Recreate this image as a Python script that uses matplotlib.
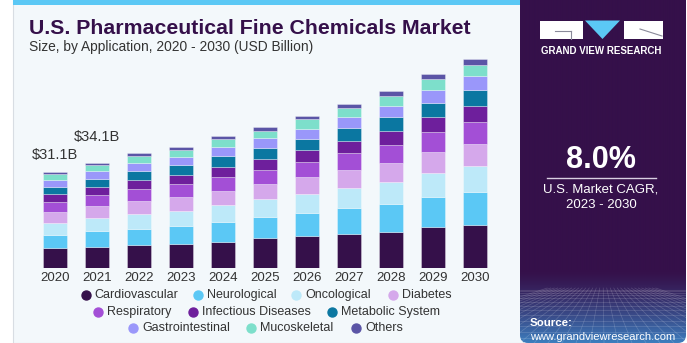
import matplotlib
matplotlib.use("Agg")
import matplotlib.pyplot as plt
import numpy as np
from matplotlib.patches import Rectangle, FancyBboxPatch, Polygon
from matplotlib.colors import to_rgb

plt.rcParams['font.family'] = ['Liberation Sans', 'DejaVu Sans']

years = ['2020', '2021', '2022', '2023', '2024', '2025', '2026', '2027', '2028', '2029', '2030']

segments = ['Cardiovascular', 'Neurological', 'Oncological', 'Diabetes', 'Respiratory',
            'Infectious Diseases', 'Metabolic System', 'Gastrointestinal', 'Mucoskeletal', 'Others']

cardio = [6.4, 6.8, 7.45, 7.8, 8.5, 9.7, 10.35, 11.1, 11.85, 13.2, 14.1]
neuro = [4.5, 5.1, 5.4, 5.9, 6.5, 6.9, 7.55, 8.4, 9.05, 9.8, 10.6]
onco = [3.9, 4.3, 4.75, 4.85, 5.3, 5.7, 6.05, 6.45, 7.0, 7.65, 8.3]
diab = [3.45, 3.8, 4.2, 4.5, 4.75, 4.95, 5.4, 5.8, 6.25, 6.8, 7.25]
resp = [3.3, 3.55, 3.8, 4.1, 4.4, 4.65, 5.05, 5.5, 5.8, 6.5, 7.1]
infect = [2.5, 2.7, 3.1, 3.1, 3.45, 3.45, 3.9, 4.0, 4.4, 4.85, 5.2]
metab = [2.35, 2.7, 2.8, 3.0, 3.35, 3.55, 3.55, 4.0, 4.4, 4.75, 4.95]
gastro = [2.25, 2.35, 2.6, 2.7, 2.9, 3.1, 3.25, 3.55, 3.8, 4.2, 4.55]
musco = [1.7, 1.95, 2.25, 2.35, 2.6, 2.5, 3.0, 3.0, 3.25, 3.35, 3.8]
others = [0.75, 0.85, 0.85, 1.0, 1.08, 1.2, 1.2, 1.3, 1.4, 1.6, 1.75]

series = [cardio, neuro, onco, diab, resp, infect, metab, gastro, musco, others]
colors = ['#35104a', '#5bc8f5', '#bde9f9', '#d5a8eb', '#a34fd6',
          '#6e1f9c', '#0b77a1', '#9a97fa', '#7ddfcb', '#5b55a6']

labels = {0: '$31.1B', 1: '$34.1B'}
label_offsets = {0: 17, 1: 26}   # px above bar top

W, H = 687, 343
fig = plt.figure(figsize=(W / 100, H / 100), dpi=100)
fig.patch.set_facecolor('white')

# background canvas in pixel units
bg = fig.add_axes([0, 0, 1, 1])
bg.set_xlim(0, W)
bg.set_ylim(H, 0)
bg.axis('off')

panel_bg = '#f3f8fb'
dark = '#35104a'
bg.add_patch(Rectangle((13, 0), 510, H, facecolor=panel_bg, edgecolor='#d8dde3', lw=0.8))
bg.add_patch(Rectangle((13, 0), 510, 4.5, facecolor='#5bc8f5', edgecolor='none'))

# right panel with gradient at the bottom
x0, x1 = 520, 686
grad = np.zeros((H, 2, 3))
top_c = np.array(to_rgb(dark))
bot_c = np.array(to_rgb('#3d7fc0'))
for r in range(H):
    t = np.clip((r - 270) / (H - 270), 0, 1) ** 1.3
    grad[r, :, :] = top_c * (1 - t) + bot_c * t
clip = FancyBboxPatch((x0, -10), x1 - x0, H + 10, boxstyle='round,pad=0,rounding_size=8',
                      facecolor='none', edgecolor='none', transform=bg.transData)
bg.add_patch(clip)
im = bg.imshow(grad, extent=[x0, x1, H, 0], aspect='auto', zorder=1, interpolation='bilinear')
im.set_clip_path(clip)

# perspective grid texture
for k in range(14):
    yy = 290 + (k / 13) ** 1.6 * 55
    ln, = bg.plot([x0, x1], [yy, yy], color='white', lw=0.5, alpha=0.18, zorder=2)
    ln.set_clip_path(clip)
for k in range(-10, 22):
    xb = x0 + k * 14
    ln, = bg.plot([603 + (xb - 603) * 0.25, xb], [288, H], color='white', lw=0.5, alpha=0.18, zorder=2)
    ln.set_clip_path(clip)

# logo
bg.add_patch(Rectangle((540, 20.5), 43, 18.5, facecolor='white', edgecolor='none', zorder=3))
bg.plot([555, 571], [30.5, 30.5], color='#8a8a9a', lw=0.8, zorder=4)
bg.plot([571, 571], [30.5, 39], color='#8a8a9a', lw=0.8, zorder=4)
bg.add_patch(Polygon([[585, 20.5], [620, 20.5], [602.5, 39]], closed=True,
                     facecolor='#5bc8f5', edgecolor='none', zorder=3))
bg.add_patch(Rectangle((624, 20.5), 39, 18.5, facecolor='white', edgecolor='none', zorder=3))
bg.plot([640, 662], [29, 36], color='#8a8a9a', lw=0.8, zorder=4)
bg.text(601.5, 51, 'GRAND VIEW RESEARCH', color='white', fontsize=7.0, fontweight='bold',
        ha='center', va='center', zorder=4)

bg.text(601, 160, '8.0%', color='white', fontsize=22, fontweight='bold',
        ha='center', va='center', zorder=4)
bg.plot([547, 656], [177.5, 177.5], color='#d9cfe2', lw=1, zorder=4)
bg.text(601, 190, 'U.S. Market CAGR,', color='white', fontsize=9.5, ha='center', va='center', zorder=4)
bg.text(601, 205.5, '2023 - 2030', color='white', fontsize=9.5, ha='center', va='center', zorder=4)
bg.text(530, 323.5, 'Source:', color='white', fontsize=8.2, fontweight='bold',
        ha='left', va='center', zorder=4)
bg.text(530, 337, 'www.grandviewresearch.com', color='white', fontsize=8.0,
        ha='left', va='center', zorder=4)

# titles
bg.text(29, 28, 'U.S. Pharmaceutical Fine Chemicals Market', color='#35104a', fontsize=15.3,
        fontweight='bold', ha='left', va='center')
bg.text(29, 47, 'Size, by Application, 2020 - 2030 (USD Billion)', color='#333333', fontsize=9.9,
        ha='left', va='center')

# main bar chart
base_px = 268.3
top_px = 50
scale = 3.094  # px per billion
ax = fig.add_axes([34 / W, (H - base_px) / H, (496 - 34) / W, (base_px - top_px) / H])
ax.set_facecolor('none')
x = np.arange(len(years))
bottom = np.zeros(len(years))
for vals, col in zip(series, colors):
    ax.bar(x, vals, width=0.57, bottom=bottom, color=col,
           edgecolor=(1, 1, 1, 0.45), linewidth=0.5)
    bottom += np.array(vals)
ax.set_xlim(-0.5, len(years) - 0.5)
ax.set_ylim(0, (base_px - top_px) / scale)
ax.set_xticks(x)
ax.set_xticklabels(years, fontsize=9.5, color='#333333')
ax.tick_params(axis='x', length=0, pad=3)
ax.set_yticks([])
for s in ax.spines.values():
    s.set_visible(False)

for i, txt in labels.items():
    ax.annotate(txt, (x[i], bottom[i]), xytext=(0, label_offsets[i] * 0.72),
                textcoords='offset points', ha='center', va='center',
                fontsize=10.5, color='#333333')

# legend rows
legend_rows = [
    (295, [(85.7, 0), (198, 1), (296, 2), (393, 3)]),
    (312, [(98, 4), (193, 5), (332, 6)]),
    (328, [(133, 7), (251, 8), (356, 9)]),
]
for yy, items in legend_rows:
    for xx, idx in items:
        bg.scatter([xx], [yy], s=42, color=colors[idx], zorder=5)
        bg.text(xx + 9, yy, segments[idx], fontsize=9, color='#333333',
                ha='left', va='center', zorder=5)

fig.savefig('out.png', dpi=100)
